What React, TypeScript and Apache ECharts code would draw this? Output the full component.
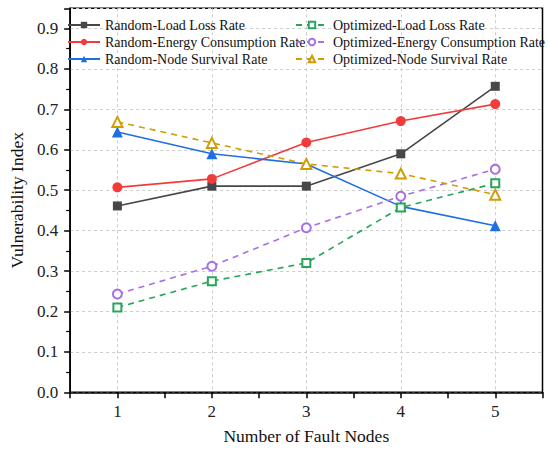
import React, { useEffect, useRef } from "react";
import * as echarts from "echarts";

const faultNodes = [1, 2, 3, 4, 5];
const randomLoadLoss = [0.461, 0.51, 0.51, 0.59, 0.757];
const randomEnergy = [0.507, 0.528, 0.618, 0.671, 0.713];
const randomNodeSurvival = [0.644, 0.59, 0.565, 0.46, 0.412];
const optLoadLoss = [0.21, 0.275, 0.32, 0.457, 0.517];
const optEnergy = [0.243, 0.312, 0.407, 0.485, 0.552];
const optNodeSurvival = [0.669, 0.617, 0.565, 0.541, 0.489];

const randomNames = [
  "Random-Load Loss Rate",
  "Random-Energy Consumption Rate",
  "Random-Node Survival Rate",
];
const optNames = [
  "Optimized-Load Loss Rate",
  "Optimized-Energy Consumption Rate",
  "Optimized-Node Survival Rate",
];

const FONT = "Liberation Serif";

function pairs(vals: number[]) {
  return faultNodes.map((x, i) => [x, vals[i]]);
}

export default function App() {
  const ref = useRef<HTMLDivElement>(null);
  useEffect(() => {
    if (!ref.current) return;
    const chart = echarts.init(ref.current, undefined, { renderer: "svg" });
    const solid = (name: string, vals: number[], color: string, symbol: string, size: number) => ({
      name,
      type: "line",
      data: pairs(vals),
      symbol,
      symbolSize: size,
      itemStyle: { color },
      lineStyle: { color, width: 1.6, type: "solid" },
    });
    const dashed = (name: string, vals: number[], color: string, symbol: string, size: number) => ({
      name,
      type: "line",
      data: pairs(vals),
      symbol,
      symbolSize: size,
      itemStyle: { color, borderColor: color, borderWidth: 2 },
      lineStyle: { color, width: 1.6, type: [6, 5] },
    });
    const legendCommon = {
      orient: "vertical",
      top: 18,
      itemWidth: 32,
      itemHeight: 8,
      itemGap: 3,
      padding: 0,
      textStyle: { fontFamily: FONT, fontSize: 14, color: "#111", lineHeight: 14 },
    };
    chart.setOption({
      animation: false,
      backgroundColor: "#fff",
      grid: {
        left: 67.5,
        right: 7.5,
        top: 8.3,
        bottom: 60.7,
        show: true,
        borderColor: "#000",
        borderWidth: 1.5,
        backgroundColor: "transparent",
      },
      legend: [
        { ...legendCommon, left: 67, data: randomNames },
        { ...legendCommon, left: 295, data: optNames },
      ],
      xAxis: {
        type: "value",
        min: 0.5,
        max: 5.5,
        interval: 0.5,
        name: "Number of Fault Nodes",
        nameLocation: "middle",
        nameGap: 35,
        nameTextStyle: { fontFamily: FONT, fontSize: 17.5, color: "#111" },
        axisLine: { show: true, lineStyle: { color: "#000", width: 1.5 } },
        axisTick: { show: true, inside: false, length: 6, lineStyle: { color: "#000", width: 1.5 } },
        axisLabel: {
          margin: 11,
          fontFamily: FONT,
          fontSize: 17,
          color: "#222",
          formatter: (v: number) => (Number.isInteger(v) && v >= 1 && v <= 5 ? String(v) : ""),
        },
        splitLine: {
          show: true,
          lineStyle: { color: ["transparent", "#cccccc"], type: [3, 3], width: 1 },
        },
      },
      yAxis: {
        type: "value",
        min: 0,
        max: 0.95,
        interval: 0.1,
        name: "Vulnerability Index",
        nameLocation: "middle",
        nameGap: 40,
        nameTextStyle: { fontFamily: FONT, fontSize: 17.5, color: "#111" },
        axisLine: { show: true, lineStyle: { color: "#000", width: 1.5 } },
        axisTick: { show: true, inside: false, length: 6, lineStyle: { color: "#000", width: 1.5 } },
        minorTick: { show: true, splitNumber: 2, length: 4, lineStyle: { color: "#000", width: 1.2 } },
        axisLabel: {
          margin: 12,
          fontFamily: FONT,
          fontSize: 17,
          color: "#222",
          formatter: (v: number) => (v > 0.91 ? "" : v.toFixed(1)),
        },
        splitLine: { show: true, lineStyle: { color: "#cccccc", type: [3, 3], width: 1 } },
      },
      series: [
        solid(randomNames[0], randomLoadLoss, "#474747", "rect", 9),
        solid(randomNames[1], randomEnergy, "#f23c3c", "circle", 10),
        solid(randomNames[2], randomNodeSurvival, "#1f6fe0", "triangle", 11),
        dashed(optNames[0], optLoadLoss, "#27a55a", "emptyRect", 8),
        dashed(optNames[1], optEnergy, "#a96fe3", "emptyCircle", 9),
        dashed(optNames[2], optNodeSurvival, "#d09c00", "emptyTriangle", 10),
      ],
    });
    return () => chart.dispose();
  }, []);
  return (
    <div
      ref={ref}
      style={{ position: "absolute", left: 0, top: 0, width: 550, height: 453 }}
    />
  );
}
